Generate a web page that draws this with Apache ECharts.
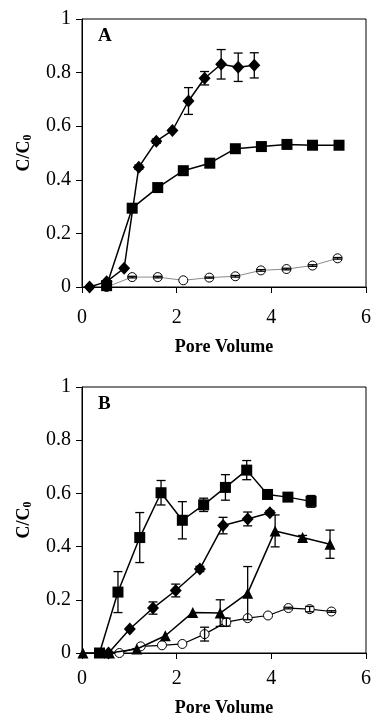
<!DOCTYPE html>
<html>
<head>
<meta charset="utf-8">
<script src="https://cdn.jsdelivr.net/npm/echarts@6/dist/echarts.min.js"></script>
<style>
  html, body { margin: 0; padding: 0; background: #fff; }
  #chart { width: 374px; height: 723px; }
</style>
</head>
<body>
<div id="chart"></div>
<script>
// Panel A
const diamondAX = [0.16, 0.52, 0.89, 1.2, 1.57, 1.91, 2.25, 2.59, 2.94, 3.3, 3.64];
const diamondAY = [0, 0.02, 0.07, 0.447, 0.544, 0.584, 0.694, 0.779, 0.831, 0.82, 0.827];
const diamondAErr = [0, 0, 0, 0.008, 0.008, 0, 0.05, 0.025, 0.055, 0.053, 0.047];

const squareAX = [0.52, 1.06, 1.6, 2.14, 2.7, 3.24, 3.79, 4.33, 4.87, 5.43];
const squareAY = [0.005, 0.294, 0.371, 0.434, 0.462, 0.516, 0.524, 0.532, 0.529, 0.529];

const circleAX = [0.52, 1.06, 1.6, 2.14, 2.69, 3.24, 3.78, 4.32, 4.87, 5.4];
const circleAY = [0, 0.037, 0.037, 0.025, 0.035, 0.04, 0.062, 0.067, 0.08, 0.107];
const circleAErr = [0, 0.003, 0.003, 0, 0.002, 0.003, 0.003, 0.003, 0.003, 0.003];

// Panel B
const squareBX = [0.37, 0.76, 1.22, 1.67, 2.12, 2.57, 3.03, 3.48, 3.92, 4.35, 4.84];
const squareBY = [0, 0.229, 0.434, 0.6025, 0.499, 0.557, 0.6225, 0.6875, 0.596, 0.586, 0.57];
const squareBErr = [0, 0.077, 0.094, 0.046, 0.07, 0.025, 0.048, 0.036, 0, 0.005, 0.022];

const diamondBX = [0.56, 1.01, 1.5, 1.98, 2.49, 2.98, 3.5, 3.97];
const diamondBY = [0, 0.09, 0.169, 0.235, 0.316, 0.479, 0.504, 0.5275];
const diamondBErr = [0, 0, 0.023, 0.024, 0.01, 0.031, 0.026, 0.008];

const triangleBX = [0.02, 0.58, 1.16, 1.76, 2.34, 2.92, 3.5, 4.08, 4.66, 5.24];
const triangleBY = [0, 0, 0.015, 0.065, 0.1525, 0.15, 0.225, 0.459, 0.434, 0.409];
const triangleBErr = [0, 0, 0, 0, 0, 0.05, 0.1, 0.06, 0.008, 0.053];

const circleBX = [0.79, 1.24, 1.69, 2.12, 2.59, 3.05, 3.5, 3.93, 4.36, 4.81, 5.27];
const circleBY = [0, 0.025, 0.029, 0.034, 0.071, 0.116, 0.131, 0.141, 0.169, 0.165, 0.156];
const circleBErr = [0, 0, 0, 0, 0.026, 0.015, 0, 0, 0.003, 0.01, 0.003];

const xTicks = { min: 0, max: 6, interval: 2 };
const yTicks = { min: 0, max: 1, interval: 0.2 };

const FONT = 'Liberation Serif';

function pts(xs, ys) {
  return xs.map((x, i) => [x, ys[i]]);
}

function errPts(xs, ys, es) {
  return xs.map((x, i) => [x, ys[i], es[i]]).filter((d) => d[2] > 0);
}

function lineSeries(g, xs, ys, symbol, size, opts = {}) {
  const open = symbol === 'circle';
  return {
    type: 'line',
    xAxisIndex: g,
    yAxisIndex: g,
    data: pts(xs, ys),
    symbol,
    symbolSize: size,
    showAllSymbol: true,
    z: open ? 2 : 3,
    itemStyle: open
      ? { color: '#fff', borderColor: '#000', borderWidth: 1 }
      : { color: '#000' },
    lineStyle: { color: opts.lineColor || '#000', width: opts.lineWidth || 1.5 },
    animation: false,
  };
}

function errorSeries(g, xs, ys, es) {
  return {
    type: 'custom',
    xAxisIndex: g,
    yAxisIndex: g,
    z: 6,
    silent: true,
    animation: false,
    encode: { x: 0, y: 1 },
    data: errPts(xs, ys, es),
    renderItem: (params, api) => {
      const x = api.value(0), y = api.value(1), e = api.value(2);
      const lo = api.coord([x, y - e]);
      const hi = api.coord([x, y + e]);
      const w = 4.5;
      const style = { stroke: '#000', lineWidth: 1.3 };
      return {
        type: 'group',
        children: [
          { type: 'line', shape: { x1: lo[0], y1: lo[1], x2: hi[0], y2: hi[1] }, style },
          { type: 'line', shape: { x1: lo[0] - w, y1: lo[1], x2: lo[0] + w, y2: lo[1] }, style },
          { type: 'line', shape: { x1: hi[0] - w, y1: hi[1], x2: hi[0] + w, y2: hi[1] }, style },
        ],
      };
    },
  };
}

function xAxisFor(g, labelMargin, nameGap) {
  return {
    gridIndex: g,
    type: 'value',
    ...xTicks,
    name: 'Pore Volume',
    nameLocation: 'middle',
    nameGap,
    nameTextStyle: { color: '#000', fontFamily: FONT, fontWeight: 'bold', fontSize: 18 },
    axisLine: { show: true, onZero: false, lineStyle: { color: '#000', width: 1 } },
    axisTick: { show: true, inside: false, length: 6, lineStyle: { color: '#000', width: 1 } },
    axisLabel: { color: '#000', fontFamily: FONT, fontSize: 20, margin: labelMargin },
    splitLine: { show: false },
  };
}

function yAxisFor(g) {
  return {
    gridIndex: g,
    type: 'value',
    ...yTicks,
    name: '{a|C/C}{b|0}',
    nameLocation: 'middle',
    nameGap: 48,
    nameRotate: 90,
    nameTextStyle: {
      rich: {
        a: { color: '#000', fontFamily: FONT, fontWeight: 'bold', fontSize: 18 },
        b: { color: '#000', fontFamily: FONT, fontWeight: 'bold', fontSize: 12, padding: [8, 0, 0, 0] },
      },
    },
    axisLine: { show: true, onZero: false, lineStyle: { color: '#000', width: 1 } },
    axisTick: { show: true, inside: false, length: 6, lineStyle: { color: '#000', width: 1 } },
    axisLabel: { color: '#000', fontFamily: FONT, fontSize: 20, margin: 11 },
    splitLine: { show: false },
  };
}

const chart = echarts.init(document.getElementById('chart'), null, { renderer: 'canvas' });

chart.setOption({
  animation: false,
  backgroundColor: '#fff',
  title: [
    { text: 'A', left: 98, top: 27, padding: 0,
      textStyle: { fontFamily: FONT, fontWeight: 'bold', fontSize: 19, color: '#000' } },
    { text: 'B', left: 98, top: 395, padding: 0,
      textStyle: { fontFamily: FONT, fontWeight: 'bold', fontSize: 19, color: '#000' } },
  ],
  grid: [
    { left: 82, top: 19, width: 287, height: 268, show: true, borderColor: '#000', borderWidth: 1 },
    { left: 82, top: 387, width: 287, height: 266, show: true, borderColor: '#000', borderWidth: 1 },
  ],
  xAxis: [xAxisFor(0, 21, 51), xAxisFor(1, 16, 46)],
  yAxis: [yAxisFor(0), yAxisFor(1)],
  series: [
    // panel A
    lineSeries(0, circleAX, circleAY, 'circle', 9, { lineColor: '#8a8a8a', lineWidth: 1 }),
    lineSeries(0, squareAX, squareAY, 'rect', 11),
    lineSeries(0, diamondAX, diamondAY, 'diamond', [12, 13]),
    errorSeries(0, diamondAX, diamondAY, diamondAErr),
    errorSeries(0, circleAX, circleAY, circleAErr),
    // panel B
    lineSeries(1, circleBX, circleBY, 'circle', 9, { lineWidth: 1.2 }),
    lineSeries(1, triangleBX, triangleBY, 'triangle', 11),
    lineSeries(1, diamondBX, diamondBY, 'diamond', [12, 13]),
    lineSeries(1, squareBX, squareBY, 'rect', 11),
    errorSeries(1, squareBX, squareBY, squareBErr),
    errorSeries(1, diamondBX, diamondBY, diamondBErr),
    errorSeries(1, triangleBX, triangleBY, triangleBErr),
    errorSeries(1, circleBX, circleBY, circleBErr),
  ],
});

window.addEventListener('resize', () => chart.resize());
</script>
</body>
</html>
